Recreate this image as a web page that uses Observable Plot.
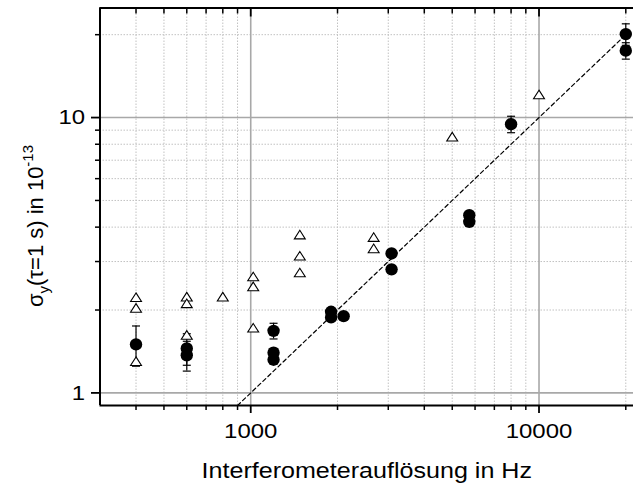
<!DOCTYPE html>
<html>
<head>
<meta charset="utf-8">
<script src="https://cdn.jsdelivr.net/npm/d3@7"></script>
<script src="https://cdn.jsdelivr.net/npm/@observablehq/plot@0.6"></script>
<style>
  html, body { margin: 0; padding: 0; background: #fff; }
  #chart svg { display: block; }
</style>
</head>
<body>
<div id="chart"></div>
<script>
// Allan deviation at tau = 1 s versus interferometer resolution (log-log)

// Measured points with error bars (filled circles)
const circleFreq  = [400, 600, 600, 1200, 1200, 1200, 1900, 1900, 2100, 3080, 3080, 5730, 5730, 8000, 20000, 20000];
const circleSigma = [1.50, 1.45, 1.37, 1.68, 1.40, 1.32, 1.97, 1.88, 1.90, 3.21, 2.81, 4.42, 4.18, 9.46, 20.1, 17.5];
const circleErr   = [0.25, 0.19, 0.17, 0.11, 0.05, 0.05, 0.05, 0.05, 0.04, 0.06, 0.06, 0.08, 0.08, 0.65, 1.8, 1.2];

// Second series (open triangles)
const triFreq  = [400, 400, 400, 600, 600, 600, 800, 1020, 1020, 1020, 1480, 1480, 1480, 2670, 2670, 5000, 10000];
const triSigma = [2.22, 2.03, 1.30, 2.23, 2.11, 1.62, 2.23, 2.64, 2.43, 1.72, 3.75, 3.14, 2.73, 3.67, 3.34, 8.5, 12.1];

// Proportional reference line sigma = f / 1000 Hz
const refFreq  = [900, 20000];
const refSigma = [0.9, 20];

// Axis ticks
const xMajor = [1000, 10000];
const xMinor = [400, 500, 600, 700, 800, 900, 2000, 3000, 4000, 5000, 6000, 7000, 8000, 9000, 20000];
const yMajor = [1, 10];
const yMinor = [2, 3, 4, 5, 6, 7, 8, 9, 20];

const xLabel = "Interferometerauflösung in Hz";

const circles = circleFreq.map((f, i) => ({f, s: circleSigma[i], e: circleErr[i]}));
const tris = triFreq.map((f, i) => ({f, s: triSigma[i]}));
const ref = refFreq.map((f, i) => ({f, s: refSigma[i]}));

// Horizontal error-bar cap
const capSymbol = {
  draw(ctx, size) {
    const r = Math.sqrt(size / Math.PI);
    ctx.moveTo(-r, 0);
    ctx.lineTo(r, 0);
  }
};
// Slightly wide upward triangle
const triSymbol = {
  draw(ctx, size) {
    const r = Math.sqrt(size / Math.PI);
    ctx.moveTo(0, -1.1 * r);
    ctx.lineTo(1.3 * r, 0.95 * r);
    ctx.lineTo(-1.3 * r, 0.95 * r);
    ctx.closePath();
  }
};

const font = "'Liberation Sans', Arial, Helvetica, sans-serif";
const minorGrid = {stroke: "#c2c2c2", strokeOpacity: 1, strokeWidth: 1, strokeDasharray: "1.5,1.5"};
const majorGrid = {stroke: "#a8a8a8", strokeOpacity: 1, strokeWidth: 1.6};
const blank = () => "";

const svg = Plot.plot({
  width: 633,
  height: 487,
  marginLeft: 99.5,
  marginRight: 0,
  marginTop: 7.5,
  marginBottom: 82,
  style: {fontFamily: font, fontSize: "21px", background: "white", color: "black"},
  x: {type: "log", domain: [300, 21270]},
  y: {type: "log", domain: [0.9, 25]},
  marks: [
    Plot.gridX(xMinor, minorGrid),
    Plot.gridY(yMinor, minorGrid),
    Plot.gridX(xMajor, majorGrid),
    Plot.gridY(yMajor, majorGrid),

    // axis ticks: bottom and left outward, top inward
    Plot.axisX(xMinor, {anchor: "bottom", tickSize: 5, strokeWidth: 1.5, tickFormat: blank, label: null}),
    Plot.axisX(xMajor, {anchor: "bottom", tickSize: 8, strokeWidth: 1.8, tickPadding: 10, tickFormat: d => String(d), label: null}),
    Plot.axisX(xMinor, {anchor: "top", tickSize: -5, strokeWidth: 1.5, tickFormat: blank, label: null}),
    Plot.axisX(xMajor, {anchor: "top", tickSize: -8, strokeWidth: 1.8, tickFormat: blank, label: null}),
    Plot.axisY(yMinor, {anchor: "left", tickSize: 4.5, strokeWidth: 1.5, tickFormat: blank, label: null}),
    Plot.axisY(yMajor, {anchor: "left", tickSize: 8.5, strokeWidth: 1.8, tickPadding: 6.5, tickFormat: d => String(d), label: null}),

    // reference line
    Plot.line(ref, {x: "f", y: "s", stroke: "black", strokeWidth: 1.2, strokeDasharray: "4,3", clip: true}),

    // error bars
    Plot.ruleX(circles, {x: "f", y1: d => d.s - d.e, y2: d => d.s + d.e, stroke: "black", strokeWidth: 1.2}),
    Plot.dot(circles, {x: "f", y: d => d.s + d.e, symbol: capSymbol, r: 4, stroke: "black", fill: "none", strokeWidth: 1.2}),
    Plot.dot(circles, {x: "f", y: d => d.s - d.e, symbol: capSymbol, r: 4, stroke: "black", fill: "none", strokeWidth: 1.2}),

    Plot.dot(circles, {x: "f", y: "s", r: 6.2, fill: "black", stroke: "none"}),
    Plot.dot(tris, {x: "f", y: "s", symbol: triSymbol, r: 4.2, fill: "white", stroke: "black", strokeWidth: 1.1}),

    // frame lines
    Plot.ruleX([300], {stroke: "black", strokeWidth: 2}),
    Plot.ruleY([0.9], {stroke: "black", strokeWidth: 2}),
    Plot.ruleY([25], {stroke: "black", strokeWidth: 2}),

    // x-axis title
    Plot.text([xLabel], {frameAnchor: "bottom", dy: 72, lineAnchor: "bottom", fontSize: 22, fill: "black"})
  ]
});

document.getElementById("chart").appendChild(svg);

// the typeface is drawn slightly wide
d3.select(svg).selectAll("text").each(function () {
  const len = this.getComputedTextLength();
  if (len > 0) {
    this.setAttribute("textLength", (len * 1.14).toFixed(1));
    this.setAttribute("lengthAdjust", "spacingAndGlyphs");
  }
});

// y-axis title with sub- and superscript
const yl = d3.select(svg).append("text")
  .attr("transform", "translate(43,226) rotate(-90)")
  .attr("text-anchor", "middle")
  .attr("font-family", font)
  .attr("font-size", 22)
  .attr("fill", "black");
yl.append("tspan").text("σ");
yl.append("tspan").attr("font-size", 15).attr("dy", 6).text("y");
yl.append("tspan").attr("dy", -6).text("(τ=1 s) in 10");
yl.append("tspan").attr("font-size", 15).attr("dy", -10).text("-13");
</script>
</body>
</html>
